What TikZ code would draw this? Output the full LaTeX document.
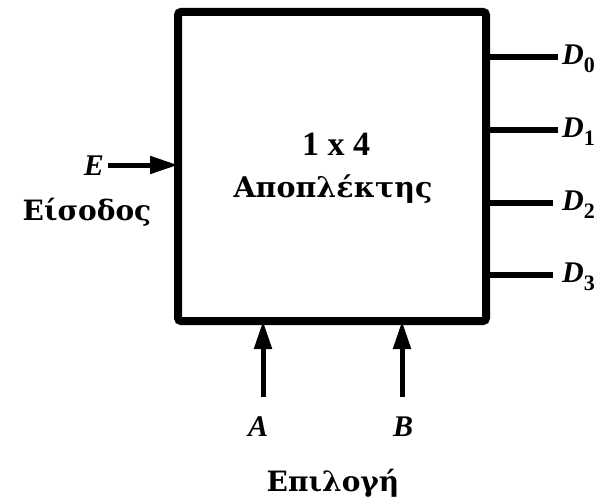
\documentclass[tikz,border=0pt]{standalone}
\usepackage{fontspec}
\setmainfont{Liberation Serif}
\newfontfamily\grk{DejaVu Serif}
\usetikzlibrary{arrows.meta}
\newcommand{\Dsub}[1]{D\raisebox{-8pt}{\upshape\fontsize{22}{22}\selectfont #1}}
\begin{document}
\begin{tikzpicture}[x=1pt,y=-1pt,
  wire/.style={line width=5.5pt},
  arr/.style={line width=5pt,-{Triangle[length=28pt,width=17pt]}},
  lbl/.style={font=\fontsize{30}{30}\selectfont\bfseries\itshape,inner sep=0pt},
  gtxt/.style={font=\grk\fontsize{28}{30}\selectfont\bfseries,inner sep=0pt}]
\useasboundingbox (0,0) rectangle (609,503);
\node[draw,line width=8pt,rounded corners=3pt,minimum width=308pt,minimum height=309pt,inner sep=0pt] (box) at (332,166.5) {};
\node[inner sep=0pt,font=\fontsize{34}{34}\selectfont\bfseries] (t1) at (336,144) {1 x 4};
\node[gtxt,font=\grk\fontsize{28.5}{30}\selectfont\bfseries] (t2) at (333,189) {Αποπλέκτης};
% outputs
\foreach \i/\y/\e in {0/57/558,1/130/558,2/203/553,3/275/553}{
  \coordinate (o\i) at (486,\y);
  \coordinate (oe\i) at (\e,\y);
  \draw[wire] (o\i) -- (oe\i);
  \node[lbl,anchor=west] (d\i) at (562,\y+2) {\Dsub{\i}};
}
% input E
\coordinate (es) at (108,165);
\coordinate (ee) at (178,165);
\draw[arr] (es) -- (ee);
\node[lbl,anchor=east] (E) at (104,166) {E};
\node[gtxt] (eis) at (87,212) {Είσοδος};
% selects
\coordinate (as) at (263,397);
\coordinate (ae) at (263,321);
\coordinate (bs) at (402,397);
\coordinate (be) at (402,321);
\draw[arr] (as) -- (ae);
\draw[arr] (bs) -- (be);
\node[lbl] (A) at (258,427) {A};
\node[lbl] (B) at (403,427) {B};
\node[gtxt] (ep) at (333,483) {Επιλογή};
\end{tikzpicture}
\end{document}
